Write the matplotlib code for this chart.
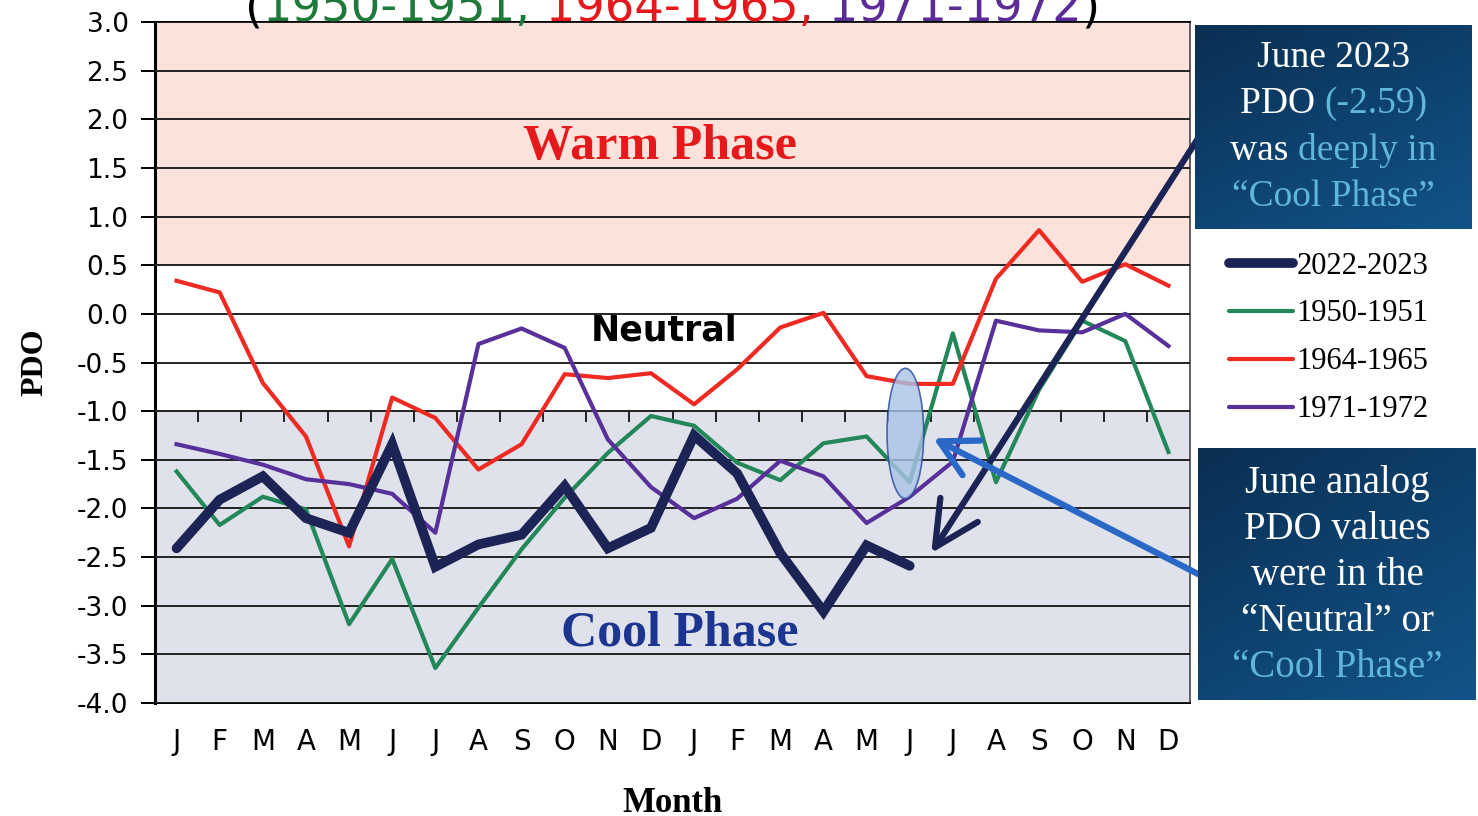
import numpy as np
import matplotlib
matplotlib.use("Agg")
import matplotlib.pyplot as plt
from matplotlib.patches import Ellipse
from matplotlib.offsetbox import TextArea, HPacker, AnchoredOffsetbox

# Months, two years (Jan of year 1 to Dec of year 2)
months = ["J", "F", "M", "A", "M", "J", "J", "A", "S", "O", "N", "D",
          "J", "F", "M", "A", "M", "J", "J", "A", "S", "O", "N", "D"]

# PDO values
pdo_2022 = [-2.41, -1.91, -1.67, -2.10, -2.25, -1.34, -2.60, -2.37, -2.27, -1.77, -2.41, -2.20,
            -1.25, -1.64, -2.46, -3.06, -2.38, -2.59]
pdo_1950 = [-1.62, -2.17, -1.88, -2.01, -3.19, -2.52, -3.64, -3.02, -2.42, -1.89, -1.43, -1.05,
            -1.15, -1.53, -1.71, -1.33, -1.26, -1.73, -0.20, -1.73, -0.78, -0.07, -0.28, -1.42]
pdo_1964 = [0.34, 0.22, -0.71, -1.26, -2.39, -0.86, -1.07, -1.60, -1.34, -0.62, -0.66, -0.61,
            -0.93, -0.57, -0.14, 0.01, -0.64, -0.72, -0.72, 0.36, 0.86, 0.33, 0.51, 0.29]
pdo_1971 = [-1.34, -1.44, -1.55, -1.70, -1.75, -1.85, -2.25, -0.31, -0.15, -0.35, -1.29, -1.78,
            -2.10, -1.90, -1.51, -1.67, -2.15, -1.88, -1.52, -0.07, -0.17, -0.19, 0.00, -0.33]

NAVY = "#1b2455"
GREEN = "#23875a"
RED = "#ee2a22"
PURPLE = "#58309a"

fig = plt.figure(figsize=(14.78, 8.16), dpi=100)
ax = fig.add_axes([155 / 1478, 1 - 703 / 816, (1190 - 155) / 1478, (703 - 22) / 816])

# phase bands
ax.axhspan(0.5, 3.0, color="#fbe2da", zorder=0)
ax.axhspan(-1.0, 0.5, color="white", zorder=0)
ax.axhspan(-4.0, -1.0, color="#dfe2eb", zorder=0)

ax.set_xlim(-0.5, 23.5)
ax.set_ylim(-4.0, 3.0)
yt = np.arange(-4.0, 3.01, 0.5)
ax.set_yticks(yt)
ax.set_yticklabels([f"{v:.1f}" for v in yt], family="DejaVu Sans", fontsize=19)
ax.yaxis.grid(True, color="#222222", lw=1.4, zorder=1)
ax.set_axisbelow(False)
ax.tick_params(axis="y", length=10, width=1.4, pad=9)

ax.set_xticks(range(len(months)))
ax.set_xticklabels(months, family="DejaVu Sans", fontsize=20)
ax.tick_params(axis="x", length=0, pad=18)

for s in ["top", "bottom"]:
    ax.spines[s].set_linewidth(1.4)
ax.spines["left"].set_linewidth(2.2)
ax.spines["right"].set_linewidth(1.2)
ax.spines["right"].set_color("#444444")

# category ticks on the zero line
sec = ax.secondary_xaxis(3 / 7)
sec.set_xticks(np.arange(0.5, 23, 1))
sec.set_xticklabels([])
sec.tick_params(length=8, width=1.4, direction="out", color="#222222")
sec.spines["bottom"].set_visible(False)

x_all = np.arange(len(months))
ax.plot(x_all[:len(pdo_2022)], pdo_2022, color=NAVY, lw=7, zorder=5,
        solid_capstyle="round", solid_joinstyle="miter", label="2022-2023")
ax.plot(x_all, pdo_1950, color=GREEN, lw=3, zorder=4, label="1950-1951")
ax.plot(x_all, pdo_1964, color=RED, lw=3, zorder=4, label="1964-1965")
ax.plot(x_all, pdo_1971, color=PURPLE, lw=3, zorder=4, label="1971-1972")

ax.set_ylabel("PDO", family="Liberation Serif", fontweight="bold", fontsize=23, labelpad=20)
ax.set_xlabel("Month", family="Liberation Serif", fontweight="bold", fontsize=25, labelpad=22)

# phase labels
ax.text(11.2, 1.72, "Warm Phase", color="#e5191c", family="Liberation Serif",
        fontweight="bold", fontsize=36, ha="center", va="center", zorder=6)
ax.text(11.3, -0.17, "Neutral", color="black", family="DejaVu Sans",
        fontweight="bold", fontsize=25, ha="center", va="center", zorder=6)
ax.text(11.67, -3.29, "Cool Phase", color="#1c3590", family="Liberation Serif",
        fontweight="bold", fontsize=36, ha="center", va="center", zorder=6)

# June highlight ellipse
ax.add_patch(Ellipse((16.9, -1.23), 0.85, 1.34, facecolor="#a9c3e6", alpha=0.8,
                     edgecolor="#2747a0", lw=1.2, zorder=6))

# arrows
ax.annotate("", xy=(17.5, -2.46), xycoords="data",
            xytext=(1197 / 1478, 1 - 140 / 816), textcoords="figure fraction",
            arrowprops=dict(arrowstyle="->,head_length=1.6,head_width=0.8", color=NAVY,
                            lw=4.5, mutation_scale=20, shrinkA=0, shrinkB=0),
            annotation_clip=False, zorder=7)
ax.annotate("", xy=(17.55, -1.28), xycoords="data",
            xytext=(1200 / 1478, 1 - 575 / 816), textcoords="figure fraction",
            arrowprops=dict(arrowstyle="->,head_length=1.3,head_width=0.7", color="#2a68c8",
                            lw=4.5, mutation_scale=20, shrinkA=0, shrinkB=0),
            annotation_clip=False, zorder=7)

# title (cut off at the top of the picture)
prev = fig.text(245 / 1478, 1 - 21 / 816, "(", color="black", family="DejaVu Sans",
                fontsize=33.5, va="baseline", ha="left")
pieces = [("1950-1951,", "#1e7a3a"), (" 1964-1965,", "#e5191c"),
          (" 1971-1972", "#5a2d96"), (")", "black")]
for txt, col in pieces:
    prev = ax.annotate(txt, xy=(1, 0), xycoords=prev, va="bottom", ha="left",
                       color=col, family="DejaVu Sans", fontsize=33.5,
                       annotation_clip=False)


def blue_box(x0, y0, x1, y1):
    bax = fig.add_axes([x0 / 1478, 1 - y1 / 816, (x1 - x0) / 1478, (y1 - y0) / 816])
    grad = np.linspace(0, 1, 256)
    g = np.add.outer(grad * 0.6, grad * 0.4)
    bax.imshow(g, cmap=matplotlib.colors.LinearSegmentedColormap.from_list(
        "b", ["#0a2f52", "#12548a"]), aspect="auto", extent=(0, 1, 0, 1))
    bax.set_xlim(0, 1)
    bax.set_ylim(0, 1)
    bax.axis("off")
    return bax


WHITE = "#ffffff"
LIGHT = "#5fb6d8"
serif = "Liberation Serif"

b1 = blue_box(1195, 25, 1472, 229)
box1_lines = [[("June 2023", WHITE)],
              [("PDO ", WHITE), ("(-2.59)", LIGHT)],
              [("was ", WHITE), ("deeply in", LIGHT)],
              [("\u201cCool Phase\u201d", LIGHT)]]
for i, line in enumerate(box1_lines):
    yy = 0.84 - i * 0.228
    parts = [TextArea(s, textprops=dict(color=c, family=serif, fontsize=27))
             for s, c in line]
    row = HPacker(children=parts, pad=0, sep=0, align="baseline")
    b1.add_artist(AnchoredOffsetbox(loc="center", child=row, pad=0, borderpad=0,
                                    frameon=False, bbox_to_anchor=(0.5, yy),
                                    bbox_transform=b1.transAxes))

b2 = blue_box(1198, 448, 1476, 700)
box2_lines = [("June analog", WHITE), ("PDO values", WHITE), ("were in the", WHITE),
              ("\u201cNeutral\u201d or", WHITE), ("\u201cCool Phase\u201d", LIGHT)]
for i, (s, c) in enumerate(box2_lines):
    b2.text(0.5, 0.86 - i * 0.183, s, color=c, family=serif, fontsize=28,
            ha="center", va="center")

# legend
h, l = ax.get_legend_handles_labels()
leg = fig.legend(h, l, loc="upper left", bbox_to_anchor=(1201 / 1478, 1 - 224 / 816),
                 frameon=False, prop={"family": serif, "size": 22},
                 handlelength=2.1, handletextpad=0.12, labelspacing=0.62)
for line in leg.get_lines():
    line.set_solid_capstyle("round")

fig.savefig("out.png", dpi=100)
